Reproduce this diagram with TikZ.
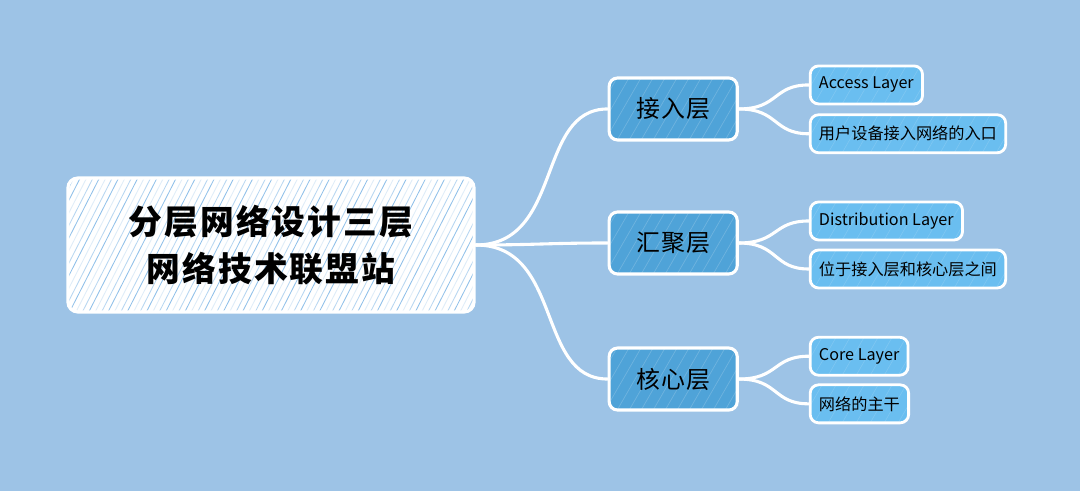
\documentclass[tikz,border=0pt]{standalone}
\usepackage{fontspec}
\setmainfont{Noto Sans CJK SC}
\usetikzlibrary{positioning}
\definecolor{bgblue}{HTML}{9DC3E6}
\definecolor{midblue}{HTML}{4FA3D8}
\definecolor{leafblue}{HTML}{6ABEF0}
\definecolor{hatchblue}{HTML}{7DB6E6}

\begin{document}
\begin{tikzpicture}[x=0.025cm, y=-0.025cm, node distance=1.8cm,
  root/.style = {draw=white, line width=2.2pt, rounded corners=7pt, fill=white,
    minimum width=10.15cm, minimum height=3.35cm, align=center,
    font=\fontsize{24}{33}\selectfont\bfseries\addfontfeatures{LetterSpace=6},
    path picture={\foreach \k [evaluate=\k as \op using {0.25+0.3*mod(\k,3)}] in {0,...,80}
      \draw[hatchblue, line width=0.6pt, opacity=\op]
        ([xshift=\k*0.16cm-2.2cm]path picture bounding box.south west) -- ++(63:4cm);}},
  mid/.style = {draw=white, line width=2.2pt, rounded corners=6pt, fill=midblue,
    minimum width=3.2cm, minimum height=1.55cm,
    font=\fontsize{17}{20}\selectfont\addfontfeatures{LetterSpace=4},
    path picture={\foreach \k in {0,...,20}
      \draw[white, line width=0.5pt, opacity=0.18]
        ([xshift=\k*0.3cm-1cm]path picture bounding box.south west) -- ++(60:2cm);}},
  leaf/.style = {draw=white, line width=2pt, rounded corners=6pt, fill=leafblue,
    minimum height=0.95cm, inner xsep=0.22cm, anchor=west,
    font=\fontsize{11.5}{14}\selectfont,
    path picture={\foreach \k in {0,...,24}
      \draw[white, line width=0.4pt, opacity=0.15]
        ([xshift=\k*0.35cm-0.6cm]path picture bounding box.south west) -- ++(60:1.2cm);}},
  link/.style = {white, line width=2.2pt, line cap=round}]

\fill[bgblue] (0,0) rectangle (1080,491);

\node[root] (root) at (271,245) {分层网络设计三层\\网络技术联盟站};

\node[mid] (jr) [right=3.3cm of root, yshift=3.4cm] {接入层};
\node[mid] (hj) [right=3.3cm of root, yshift=0.05cm] {汇聚层};
\node[mid] (hx) [right=3.3cm of root, yshift=-3.35cm] {核心层};

\node[leaf] (acc)  [right=1.75cm of jr, yshift=0.6cm]  {Access Layer};
\node[leaf] (accd) [right=1.75cm of jr, yshift=-0.62cm] {用户设备接入网络的入口};
\node[leaf] (dis)  [right=1.75cm of hj, yshift=0.55cm]  {Distribution Layer};
\node[leaf] (disd) [right=1.75cm of hj, yshift=-0.65cm] {位于接入层和核心层之间};
\node[leaf] (cor)  [right=1.75cm of hx, yshift=0.57cm]  {Core Layer};
\node[leaf] (cord) [right=1.75cm of hx, yshift=-0.62cm] {网络的主干};

\draw[link] (root.east) .. controls +(2.2cm,0) and +(-1.8cm,0) .. (jr.west);
\draw[link] (root.east) .. controls +(1.5cm,0) and +(-1.5cm,0) .. (hj.west);
\draw[link] (root.east) .. controls +(2.2cm,0) and +(-1.8cm,0) .. (hx.west);

\draw[link] (jr.east) .. controls +(1cm,0) and +(-0.9cm,0) .. (acc.west);
\draw[link] (jr.east) .. controls +(1cm,0) and +(-0.9cm,0) .. (accd.west);
\draw[link] (hj.east) .. controls +(1cm,0) and +(-0.9cm,0) .. (dis.west);
\draw[link] (hj.east) .. controls +(1cm,0) and +(-0.9cm,0) .. (disd.west);
\draw[link] (hx.east) .. controls +(1cm,0) and +(-0.9cm,0) .. (cor.west);
\draw[link] (hx.east) .. controls +(1cm,0) and +(-0.9cm,0) .. (cord.west);

\end{tikzpicture}
\end{document}
